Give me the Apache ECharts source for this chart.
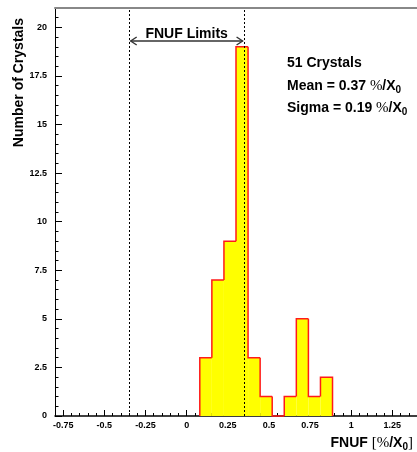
<!DOCTYPE html>
<html>
<head>
<meta charset="utf-8">
<script src="https://cdn.jsdelivr.net/npm/echarts@6/dist/echarts.min.js"></script>
<style>
html,body{margin:0;padding:0;background:#fff;}
#c{width:417px;height:452px;}
</style>
</head>
<body>
<div id="c"></div>
<script>
// ---- data ----
var binLow = [0.08, 0.1533, 0.2267, 0.3, 0.3733, 0.4467, 0.52, 0.5933, 0.6667, 0.74, 0.8133];
var binWidth = 0.0733;
var counts = [3, 7, 9, 19, 3, 1, 0, 1, 5, 1, 2];
var limitLines = [-0.35, 0.35];
var arrowSpan = [-0.34, 0.34];
var arrowLevel = [19.3];
var xLabelValues = [-0.75, -0.5, -0.25, 0, 0.25, 0.5, 0.75, 1, 1.25];
var xMinorValues = [-0.8,-0.7,-0.65,-0.6,-0.55,-0.45,-0.4,-0.35,-0.3,-0.2,-0.15,-0.1,-0.05,0.05,0.1,0.15,0.2,0.3,0.35,0.4,0.45,0.55,0.6,0.65,0.7,0.8,0.85,0.9,0.95,1.05,1.1,1.15,1.2,1.3,1.35];
var yLabelValues = [0, 2.5, 5, 7.5, 10, 12.5, 15, 17.5, 20];
var yMinorValues = [0.5,1,1.5,2,3,3.5,4,4.5,5.5,6,6.5,7,8,8.5,9,9.5,10.5,11,11.5,12,13,13.5,14,14.5,15.5,16,16.5,17,18,18.5,19,19.5,20.5];

var FONT = '"Liberation Sans", Arial, Helvetica, sans-serif';
var SERIF = '"Liberation Serif", "Times New Roman", serif';

var chart = echarts.init(document.getElementById('c'), null, {renderer: 'canvas'});

var histData = binLow.map(function (x, i) { return [x, counts[i]]; });

function subRich(size) {
  return {
    b: {fontFamily: FONT, fontWeight: 'bold', fontSize: size, color: '#000', lineHeight: 16},
    s: {fontFamily: SERIF, fontWeight: 'normal', fontSize: size + 1, color: '#444', lineHeight: 16},
    sub: {fontFamily: FONT, fontWeight: 'bold', fontSize: Math.round(size * 0.7), color: '#000', lineHeight: 10, padding: [8, 0, 0, 0]}
  };
}

var option = {
  animation: false,
  backgroundColor: '#fff',
  grid: {left: 55, top: 8, width: 364, height: 408, show: false},
  xAxis: [{
    type: 'value', min: -0.8, max: 1.4, position: 'bottom',
    axisLine: {show: true, onZero: false, lineStyle: {color: '#000', width: 1.5}},
    axisTick: {show: true, inside: true, length: 6, customValues: xLabelValues, lineStyle: {color: '#000', width: 1}},
    axisLabel: {show: true, customValues: xLabelValues, margin: 5, fontFamily: FONT, fontWeight: 'bold', fontSize: 9, color: '#000'},
    splitLine: {show: false}
  }, {
    type: 'value', min: -0.8, max: 1.4, position: 'bottom',
    axisLine: {show: false, onZero: false},
    axisTick: {show: true, inside: true, length: 3, customValues: xMinorValues, lineStyle: {color: '#000', width: 1}},
    axisLabel: {show: false},
    splitLine: {show: false}
  }, {
    type: 'value', min: -0.8, max: 1.4, position: 'top',
    axisLine: {show: true, onZero: false, lineStyle: {color: '#888', width: 2}},
    axisTick: {show: false},
    axisLabel: {show: false},
    splitLine: {show: false}
  }],
  yAxis: [{
    type: 'value', min: 0, max: 21, position: 'left',
    axisLine: {show: true, onZero: false, lineStyle: {color: '#000', width: 1}},
    axisTick: {show: true, inside: true, length: 7, customValues: yLabelValues, lineStyle: {color: '#000', width: 1}},
    axisLabel: {show: true, customValues: yLabelValues, margin: 8, fontFamily: FONT, fontWeight: 'bold', fontSize: 9, color: '#000'},
    splitLine: {show: false}
  }, {
    type: 'value', min: 0, max: 21, position: 'left',
    axisLine: {show: false, onZero: false},
    axisTick: {show: true, inside: true, length: 3.5, customValues: yMinorValues, lineStyle: {color: '#000', width: 1}},
    axisLabel: {show: false},
    splitLine: {show: false}
  }],
  series: [{
    type: 'custom',
    name: 'FNUF',
    xAxisIndex: 0, yAxisIndex: 0,
    data: histData,
    renderItem: function (params, api) {
      var i = params.dataIndex;
      var lo = api.value(0), c = api.value(1);
      var hi = lo + binWidth;
      var prev = i > 0 ? counts[i - 1] : 0;
      var pBase = api.coord([lo, 0]);
      var pLoTop = api.coord([lo, c]);
      var pHiTop = api.coord([hi, c]);
      var pLoPrev = api.coord([lo, prev]);
      var children = [{
        type: 'rect',
        shape: {x: pLoTop[0], y: pLoTop[1], width: pHiTop[0] - pLoTop[0], height: pBase[1] - pLoTop[1]},
        style: {fill: '#ffff00', stroke: null}
      }];
      var pts = [pLoPrev, pLoTop, pHiTop];
      if (i === counts.length - 1) pts.push(api.coord([hi, 0]));
      children.push({type: 'polyline', shape: {points: pts}, style: {stroke: '#ff1a1a', lineWidth: 1.5, fill: null}});
      return {type: 'group', children: children};
    },
    markLine: {
      silent: true, symbol: 'none', z: 5,
      label: {show: false},
      lineStyle: {color: '#000', type: [2, 2], width: 1},
      data: limitLines.map(function (v) { return {xAxis: v}; })
    }
  }, {
    type: 'custom',
    name: 'limits',
    xAxisIndex: 0, yAxisIndex: 0,
    z: 6,
    data: [[arrowSpan[0], arrowLevel[0], arrowSpan[1]]],
    renderItem: function (params, api) {
      var a = api.coord([api.value(0), api.value(1)]);
      var b = api.coord([api.value(2), api.value(1)]);
      var mid = api.coord([(api.value(0) + api.value(2)) / 2, api.value(1)]);
      var h = 6, w = 4;
      var st = {stroke: '#333', lineWidth: 1.4, fill: null};
      return {type: 'group', children: [
        {type: 'line', shape: {x1: a[0], y1: a[1], x2: b[0], y2: b[1]}, style: st},
        {type: 'polyline', shape: {points: [[a[0] + h, a[1] - w], a, [a[0] + h, a[1] + w]]}, style: st},
        {type: 'polyline', shape: {points: [[b[0] - h, b[1] - w], b, [b[0] - h, b[1] + w]]}, style: st},
        {type: 'text', x: mid[0], y: mid[1] - 7, style: {text: 'FNUF Limits', fontFamily: FONT, fontWeight: 'bold', fontSize: 14, fill: '#000', align: 'center', verticalAlign: 'middle'}}
      ]};
    }
  }],
  graphic: [
    {type: 'text', left: 287, top: 56, style: {text: '51 Crystals', fontFamily: FONT, fontWeight: 'bold', fontSize: 14, fill: '#000'}},
    {type: 'text', left: 287, top: 77, style: {text: '{b|Mean = 0.37 }{s|%}{b|/X}{sub|0}', rich: subRich(14)}},
    {type: 'text', left: 287, top: 99, style: {text: '{b|Sigma = 0.19 }{s|%}{b|/X}{sub|0}', rich: subRich(14)}},
    {type: 'text', right: 4, top: 434, style: {text: '{b|FNUF }{s|[%}{b|/X}{sub|0}{s|]}', rich: subRich(14)}},
    {type: 'text', x: 19, y: 18, rotation: Math.PI / 2, style: {text: 'Number of Crystals', fontFamily: FONT, fontWeight: 'bold', fontSize: 14, fill: '#000', align: 'right', verticalAlign: 'middle'}}
  ]
};
chart.setOption(option);
</script>
</body>
</html>
